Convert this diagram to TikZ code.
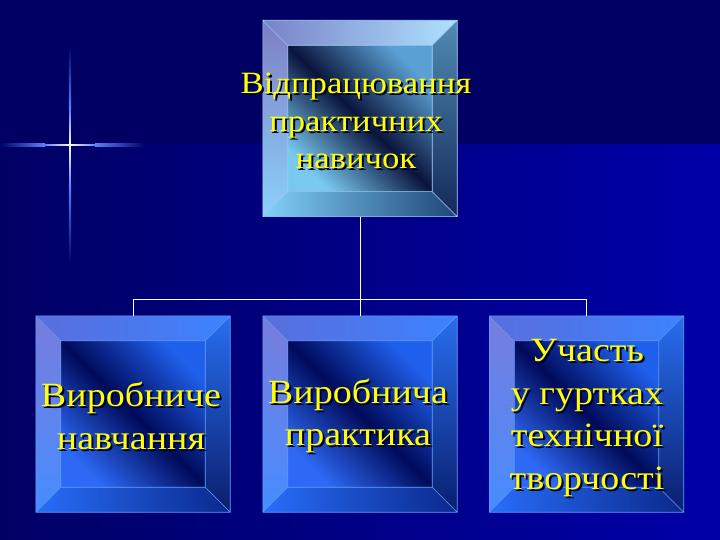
\documentclass[tikz,border=0pt]{standalone}
\usepackage{fontspec}
\setmainfont{Liberation Serif}
\usepackage{tikz}
\usetikzlibrary{positioning}
\usepackage{xcolor}
\definecolor{ColBgDark}{RGB}{0,0,100}
\definecolor{ColBgLight}{RGB}{0,0,168}
\definecolor{ColRay}{RGB}{90,130,255}
\definecolor{ColText}{RGB}{255,255,10}
\definecolor{ColShadow}{RGB}{0,0,35}
% colours of the top box
\definecolor{TopUpA}{RGB}{120,130,200}
\definecolor{TopUpB}{RGB}{175,225,255}
\definecolor{TopLeftA}{RGB}{125,125,195}
\definecolor{TopLeftB}{RGB}{140,210,250}
\definecolor{TopRightA}{RGB}{80,140,180}
\definecolor{TopRightB}{RGB}{20,40,90}
\definecolor{TopDownA}{RGB}{130,210,250}
\definecolor{TopDownB}{RGB}{30,70,120}
\definecolor{TopFaceA}{RGB}{90,160,210}
\definecolor{TopFaceB}{RGB}{10,20,60}
\definecolor{TopFaceC}{RGB}{120,200,240}
\definecolor{TopLine}{RGB}{170,215,255}
% colours of the lower boxes
\definecolor{BotUpA}{RGB}{90,110,220}
\definecolor{BotUpB}{RGB}{60,130,255}
\definecolor{BotLeftA}{RGB}{120,125,220}
\definecolor{BotLeftB}{RGB}{70,140,255}
\definecolor{BotRightA}{RGB}{40,110,240}
\definecolor{BotRightB}{RGB}{10,30,110}
\definecolor{BotDownA}{RGB}{40,110,250}
\definecolor{BotDownB}{RGB}{10,40,140}
\definecolor{BotFaceA}{RGB}{30,95,235}
\definecolor{BotFaceB}{RGB}{0,10,90}
\definecolor{BotFaceC}{RGB}{45,105,245}
\definecolor{BotLine}{RGB}{100,160,255}
\tikzstyle{BoxNode}=[rectangle,inner sep=0pt,minimum width=194pt,minimum height=196pt]
\tikzstyle{EdgeTree}=[white,line width=0.9pt]
\tikzstyle{LabelText}=[text=ColText,align=center,inner sep=0pt,xscale=1.12]
\tikzstyle{LabelShadow}=[text=ColShadow,align=center,inner sep=0pt,xscale=1.12]
\newcommand{\TopFont}{\fontsize{31}{37.5}\selectfont}
\newcommand{\BotFont}{\fontsize{34}{42.5}\selectfont}
% bevelled square drawn round a named node
\newcommand{\BevelBox}[2]{%
  \coordinate (#1-nw) at ([shift={(25,25)}]#1.north west);
  \coordinate (#1-ne) at ([shift={(-25,25)}]#1.north east);
  \coordinate (#1-se) at ([shift={(-25,-25)}]#1.south east);
  \coordinate (#1-sw) at ([shift={(25,-25)}]#1.south west);
  \fill[top color=#2FaceA,bottom color=#2FaceC,middle color=#2FaceB,shading angle=-45]
    (#1-nw) rectangle (#1-se);
  \fill[left color=#2UpA,right color=#2UpB]
    (#1.north west) -- (#1.north east) -- (#1-ne) -- (#1-nw) -- cycle;
  \fill[top color=#2LeftA,bottom color=#2LeftB]
    (#1.north west) -- (#1-nw) -- (#1-sw) -- (#1.south west) -- cycle;
  \fill[top color=#2RightA,bottom color=#2RightB]
    (#1.north east) -- (#1-ne) -- (#1-se) -- (#1.south east) -- cycle;
  \fill[left color=#2DownA,right color=#2DownB]
    (#1.south west) -- (#1-sw) -- (#1-se) -- (#1.south east) -- cycle;
  \draw[#2Line,line width=0.6pt] (#1.north west) rectangle (#1.south east)
    (#1-nw) rectangle (#1-se)
    (#1.north west) -- (#1-nw) (#1.north east) -- (#1-ne)
    (#1.south east) -- (#1-se) (#1.south west) -- (#1-sw);}
% yellow text with a dark shadow
\newcommand{\ShadowLabel}[4]{%
  \node[LabelShadow,font=#3] at ([shift={(2,2)}]#2) {#4};
  \node[LabelText,font=#3] (#1) at (#2) {#4};}

\begin{document}
\begin{tikzpicture}[x=1pt,y=-1pt]
        \useasboundingbox (0,0) rectangle (720,540);
        % background
        \fill[ColBgDark] (0,0) rectangle (720,540);
        \fill[left color=ColBgDark,right color=ColBgLight] (0,145) rectangle (720,540);
        % sparkle
        \fill[left color=ColBgDark,right color=ColRay] (0,144) rectangle (45,146.2);
        \fill[left color=ColRay,right color=white] (45,144.3) rectangle (70,145.9);
        \fill[left color=white,right color=ColRay] (70,144.3) rectangle (95,145.9);
        \fill[left color=ColRay,right color=ColBgDark] (95,144) rectangle (145,146.2);
        \fill[top color=ColBgDark,bottom color=ColRay] (68.9,45) rectangle (71.1,110);
        \fill[top color=ColRay,bottom color=white] (69.2,110) rectangle (70.8,145);
        \fill[top color=white,bottom color=ColRay] (69.2,145) rectangle (70.8,185);
        \fill[top color=ColRay,bottom color=ColBgDark] (68.9,185) rectangle (71.1,265);
        % boxes
        \node[BoxNode](top)at(360,118.5){};
        \node[BoxNode](left)at(133,414){};
        \node[BoxNode](mid)at(360,414){};
        \node[BoxNode](right)at(586.5,414){};
        \BevelBox{top}{Top}
        \BevelBox{left}{Bot}
        \BevelBox{mid}{Bot}
        \BevelBox{right}{Bot}
        % tree lines
        \coordinate (fork) at (360,299);
        \draw[EdgeTree](top.south)--(fork);
        \draw[EdgeTree](fork)-|(left.north);
        \draw[EdgeTree](fork)--(mid.north);
        \draw[EdgeTree](fork)-|(right.north);
        % labels
        \ShadowLabel{topLabel}{356,121}{\TopFont}{Відпрацювання\\практичних\\навичок}
        \ShadowLabel{leftLabel}{131,416}{\BotFont}{Виробниче\\навчання}
        \ShadowLabel{midLabel}{358,416}{\BotFont}{Виробнича\\практика}
        \ShadowLabel{rightLabel}{587,418}{\BotFont}{Участь\\у гуртках\\технічної\\творчості}
\end{tikzpicture}
\end{document}
